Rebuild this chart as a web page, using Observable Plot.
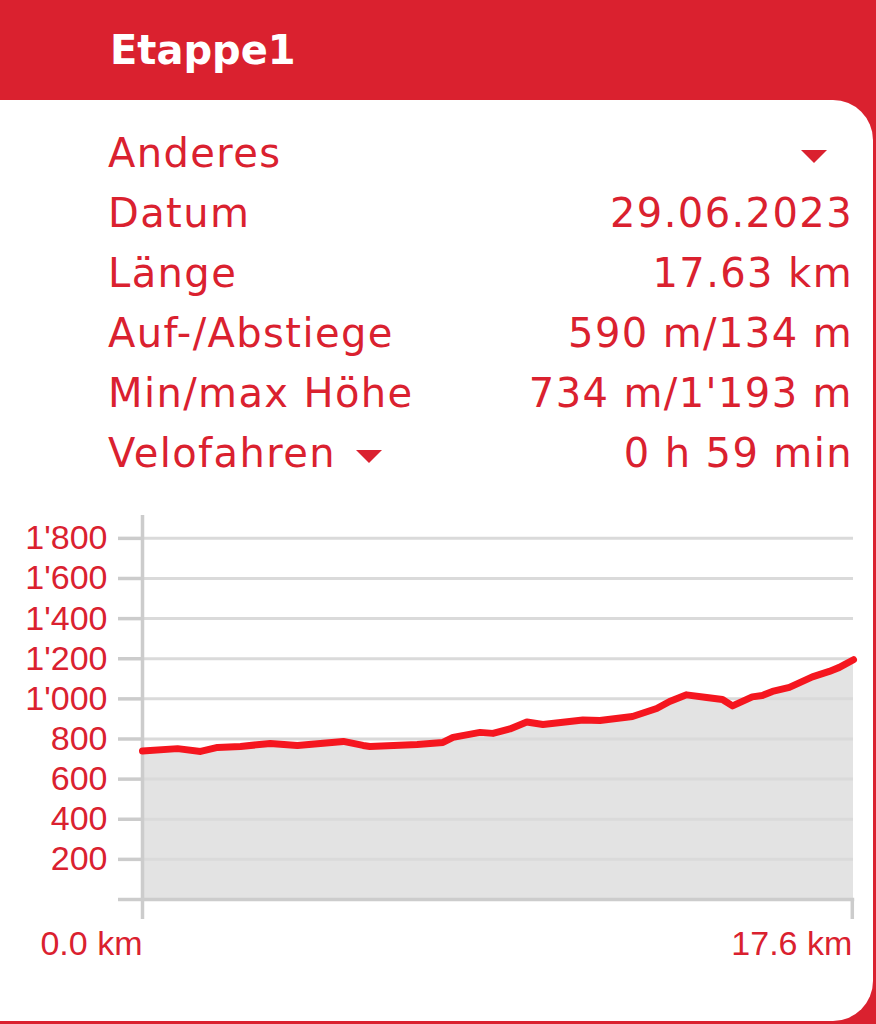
<!DOCTYPE html>
<html>
<head>
<meta charset="utf-8">
<script src="https://cdn.jsdelivr.net/npm/d3@7"></script>
<script src="https://cdn.jsdelivr.net/npm/@observablehq/plot@0.6"></script>
<style>
  html, body { margin: 0; padding: 0; }
  body { width: 876px; height: 1024px; background: #da212f; position: relative; overflow: hidden; font-family: "DejaVu Sans", sans-serif; }
  #title { position: absolute; left: 110px; top: 30px; line-height: 40px; font-size: 40px; font-weight: bold; color: #fff; font-family: "DejaVu Sans", sans-serif; }
  #card { position: absolute; left: -50px; top: 100px; width: 923px; height: 921px; background: #fff; border-radius: 0 40px 40px 0; }
  #rows { position: absolute; left: 108px; top: 123px; width: 745px; color: #da212f; font-size: 40px; letter-spacing: 1.4px; font-family: "DejaVu Sans", sans-serif; }
  .row { height: 60px; line-height: 60px; display: flex; justify-content: space-between; align-items: baseline; white-space: nowrap; }
  .tri { display: inline-block; width: 0; height: 0; border-left: 13px solid transparent; border-right: 13px solid transparent; border-top: 13px solid #da212f; vertical-align: middle; }
  #chart { position: absolute; left: 0; top: 500px; }
</style>
</head>
<body>
<div id="title"></div>
<div id="card"></div>
<div id="rows"></div>
<div id="chart"></div>
<script>
// ---- data ----
const titleText = "Etappe1";
const infoLabels = ["Anderes", "Datum", "Länge", "Auf-/Abstiege", "Min/max Höhe", "Velofahren"];
const infoValues = ["", "29.06.2023", "17.63 km", "590 m/134 m", "734 m/1'193 m", "0 h 59 min"];
const distKm = [0, 0.87, 1.44, 1.86, 2.43, 3.17, 3.84, 4.98, 5.47, 5.64, 6.81, 7.45, 7.70, 8.37, 8.69, 9.11, 9.53, 9.93, 10.92, 11.34, 12.15, 12.75, 13.07, 13.49, 13.99, 14.38, 14.63, 15.12, 15.37, 15.62, 16.04, 16.61, 17.03, 17.28, 17.63];
const elevM = [740, 752, 738, 758, 763, 778, 768, 788, 768, 763, 773, 783, 808, 833, 828, 850, 885, 872, 895, 892, 912, 952, 987, 1020, 1007, 997, 965, 1010, 1017, 1037, 1057, 1110, 1137, 1157, 1195];
const yTicks = [0, 200, 400, 600, 800, 1000, 1200, 1400, 1600, 1800];
const yTickLabels = ["", "200", "400", "600", "800", "1'000", "1'200", "1'400", "1'600", "1'800"];
const xTicks = [0, 17.6];
const xTickLabels = ["0.0 km", "17.6 km"];
const gridValues = [200, 400, 600, 800, 1000, 1200, 1400, 1600, 1800];

// ---- header / info rows ----
document.getElementById("title").textContent = titleText;
const rows = document.getElementById("rows");
infoLabels.forEach((lab, i) => {
  const r = document.createElement("div");
  r.className = "row";
  const l = document.createElement("span");
  l.textContent = lab;
  if (lab === "Velofahren") {
    const t = document.createElement("span");
    t.className = "tri";
    t.style.marginLeft = "20px";
    l.appendChild(t);
  }
  const v = document.createElement("span");
  if (i === 0) {
    const t = document.createElement("span");
    t.className = "tri";
    t.style.marginRight = "26px";
    v.appendChild(t);
  } else {
    v.textContent = infoValues[i];
  }
  r.appendChild(l); r.appendChild(v);
  rows.appendChild(r);
});

// ---- chart ----
const data = distKm.map((d, i) => ({d, e: elevM[i]}));
const red = "#da212f";
const chart = Plot.plot({
  width: 876,
  height: 470,
  marginLeft: 142,
  marginRight: 23,
  marginTop: 15,
  marginBottom: 71,
  style: {fontFamily: "'Liberation Sans', Arial, sans-serif", fontSize: "34px", background: "transparent", overflow: "visible"},
  x: {domain: [0, 17.63]},
  y: {domain: [0, 1914]},
  marks: [
    Plot.areaY(data, {x: "d", y: "e", fill: "#e3e3e3"}),
    Plot.ruleY(gridValues, {stroke: "#dadada", strokeWidth: 3}),
    Plot.ruleY([0], {stroke: "#cccccc", strokeWidth: 3.5, x1: 0, x2: 17.66}),
    Plot.ruleX([0], {stroke: "#cccccc", strokeWidth: 3.5}),
    Plot.axisY({ticks: yTicks, tickSize: 24, tickPadding: 11, tickFormat: (d) => yTickLabels[yTicks.indexOf(d)], stroke: "#cccccc", strokeWidth: 3.5, fill: red, label: null, fontSize: 34}),
    Plot.axisX({ticks: xTicks, tickSize: 20, tickPadding: 11, tickFormat: (d) => xTickLabels[xTicks.indexOf(d)], stroke: "#cccccc", strokeWidth: 3.5, fill: red, label: null, textAnchor: "end", fontSize: 34}),
    Plot.lineY(data, {x: "d", y: "e", stroke: "#f5161f", strokeWidth: 7})
  ]
});
document.getElementById("chart").appendChild(chart);
</script>
</body>
</html>
